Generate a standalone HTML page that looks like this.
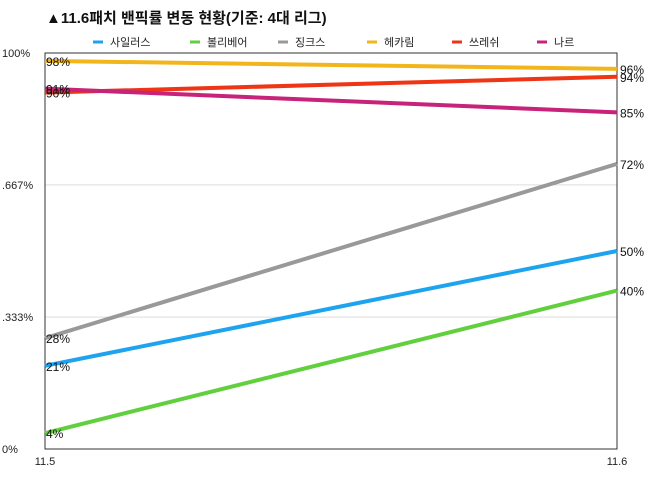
<!DOCTYPE html>
<html><head><meta charset="utf-8"><style>
body{margin:0;background:#fff;width:650px;height:472px;overflow:hidden}
text{font-family:"Liberation Sans","Noto Sans CJK KR",sans-serif}
</style></head><body>
<svg id="chart" width="650" height="472" xmlns="http://www.w3.org/2000/svg">
<text x="46" y="23" font-size="15" font-weight="bold" fill="#111">▲11.6패치 밴픽률 변동 현황(기준: 4대 리그)</text>
<g id="grid"></g><g id="lines"></g><g id="legend"></g><g id="labels"></g>
</svg>
<script>
const categories=["11.5","11.6"];
const seriesNames=["사일러스","볼리베어","징크스","헤카림","쓰레쉬","나르"];
const seriesColors=["#1ea4ee","#62cf3f","#999999","#f2b51c","#ee3516","#c8237a"];
const startValues=[21,4,28,98,90,91];
const endValues=[50,40,72,96,94,85];
const yTicks=[0,33.3,66.7,100];
const yTickLabels=["0%",".333%",".667%","100%"];
const NS="http://www.w3.org/2000/svg";
const L=45,R=617,T=53,B=449;
const x=i=>L+i*(R-L);
const y=v=>B-v/100*(B-T);
function mk(t,a,p){const e=document.createElementNS(NS,t);for(const k in a)e.setAttribute(k,a[k]);p.appendChild(e);return e;}
const grid=document.getElementById('grid');
yTicks.forEach((v,i)=>{
  const g=mk('line',{x1:L,x2:R,y1:y(v),y2:y(v),stroke:'#ddd','stroke-width':1},grid);
  
  
  const t=mk('text',{x:2,y:y(v)+4,'font-size':11,fill:'#222'},grid);t.textContent=yTickLabels[i];
  
  
});
const box=mk('rect',{x:L,y:T,width:R-L,height:B-T,fill:'none',stroke:'#333','stroke-width':1},grid);


categories.forEach((c,i)=>{
  const t=mk('text',{x:x(i),y:465,'font-size':11,'text-anchor':'middle',fill:'#222'},grid);t.textContent=c;
  
  
});
const lines=document.getElementById('lines'),labels=document.getElementById('labels'),legend=document.getElementById('legend');
const legX=[93,190,278,367,452,537];
seriesNames.forEach((n,i)=>{
  const l=mk('line',{x1:x(0),y1:y(startValues[i]),x2:x(1),y2:y(endValues[i]),stroke:seriesColors[i],'stroke-width':4},lines);
  
  
  const a=mk('text',{x:x(0)+1,y:y(startValues[i])+5,'font-size':12,fill:'#111'},labels);a.textContent=startValues[i]+'%';
  
  
  const b=mk('text',{x:x(1)+3,y:y(endValues[i])+5,'font-size':12,fill:'#111'},labels);b.textContent=endValues[i]+'%';
  
  
  const d=mk('line',{x1:legX[i],x2:legX[i]+10,y1:42,y2:42,stroke:seriesColors[i],'stroke-width':3},legend);
  
  
  const t=mk('text',{x:legX[i]+17,y:46,'font-size':11,fill:'#222'},legend);t.textContent=n;
  
  
});
</script>
</body></html>
